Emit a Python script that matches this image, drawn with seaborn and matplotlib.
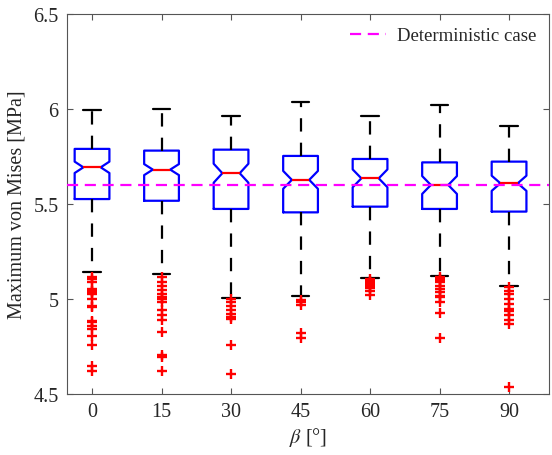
import numpy as np
import seaborn as sns
import matplotlib.pyplot as plt

# Angles and box statistics
betas = ['0', '15', '30', '45', '60', '75', '90']
whis_hi = [5.997, 6.000, 5.962, 6.038, 5.962, 6.021, 5.909]
q3      = [5.790, 5.781, 5.786, 5.753, 5.737, 5.719, 5.723]
medians = [5.693, 5.681, 5.662, 5.627, 5.635, 5.600, 5.609]
q1      = [5.526, 5.517, 5.474, 5.456, 5.486, 5.474, 5.460]
whis_lo = [5.144, 5.132, 5.005, 5.017, 5.110, 5.119, 5.070]
notch_half = [0.030, 0.029, 0.050, 0.047, 0.047, 0.047, 0.040]

fliers_0  = [5.114, 5.105, 5.088, 5.053, 5.044, 5.035, 5.026, 5.000, 4.965, 4.956,
             4.886, 4.877, 4.860, 4.842, 4.807, 4.758, 4.649, 4.623]
fliers_15 = [5.114, 5.088, 5.067, 5.047, 5.026, 5.009, 5.000, 4.986, 4.942, 4.916,
             4.891, 4.828, 4.705, 4.693, 4.623]
fliers_30 = [5.000, 4.982, 4.961, 4.944, 4.921, 4.904, 4.895, 4.758, 4.605]
fliers_45 = [4.996, 4.982, 4.968, 4.821, 4.793]
fliers_60 = [5.105, 5.096, 5.088, 5.079, 5.070, 5.056, 5.044, 5.021]
fliers_75 = [5.114, 5.105, 5.096, 5.088, 5.070, 5.053, 5.035, 5.018, 5.009, 4.982,
             4.926, 4.793]
fliers_90 = [5.061, 5.044, 5.026, 5.000, 4.974, 4.947, 4.938, 4.916, 4.891, 4.868,
             4.535]
all_fliers = [fliers_0, fliers_15, fliers_30, fliers_45, fliers_60, fliers_75, fliers_90]

deterministic = 5.6

# Style
sns.set_theme(style="ticks")
plt.rcParams['font.family'] = ['Liberation Serif', 'DejaVu Serif']
plt.rcParams['mathtext.fontset'] = 'stix'

fig = plt.figure(figsize=(5.52, 4.56), dpi=100)
ax = fig.add_axes([0.1214, 0.1338, 0.8732, 0.8333])

positions = np.arange(1, len(betas) + 1)

stats = []
for i in range(len(betas)):
    stats.append(dict(med=medians[i], q1=q1[i], q3=q3[i],
                      whislo=whis_lo[i], whishi=whis_hi[i],
                      cilo=medians[i] - notch_half[i], cihi=medians[i] + notch_half[i],
                      fliers=[]))

ax.bxp(stats, positions=positions, widths=0.5, capwidths=0.25, shownotches=True,
       showfliers=False,
       boxprops=dict(color='blue', linewidth=1.6),
       medianprops=dict(color='red', linewidth=1.6),
       whiskerprops=dict(color='black', linewidth=1.6, linestyle=(0, (6, 5))),
       capprops=dict(color='black', linewidth=1.6))

# Outliers
fx, fy = [], []
for p, fl in zip(positions, all_fliers):
    fx += [p] * len(fl)
    fy += fl
sns.scatterplot(x=fx, y=fy, ax=ax, marker='+', color='red', s=55, linewidth=1.7, zorder=5)

# Deterministic line
ax.axhline(deterministic, color='magenta', linewidth=1.6, linestyle=(0, (5, 3)),
           label='Deterministic case', zorder=6)

ax.set_xlim(0.64, 7.575)
ax.set_ylim(4.5, 6.5)
ax.set_xticks(positions)
ax.set_xticklabels(betas)
ax.set_yticks([4.5, 5, 5.5, 6, 6.5])
ax.set_yticklabels(['4.5', '5', '5.5', '6', '6.5'])
ax.tick_params(direction='in', top=True, right=True, labelsize=14.5, length=4.5,
               width=0.8, color='#555555', labelcolor='#262626', pad=6)
for s in ax.spines.values():
    s.set_color('#555555')
    s.set_linewidth(0.8)

ax.set_xlabel(r'$\beta$ [°]', fontsize=14.5, color='#262626', labelpad=3)
ax.set_ylabel('Maximum von Mises [MPa]', fontsize=14.5, color='#262626', labelpad=5)

ax.legend(loc='upper right', frameon=False, fontsize=13.5, handlelength=1.95,
          handletextpad=0.55, borderaxespad=0.3)

fig.savefig('out.png', dpi=100)
